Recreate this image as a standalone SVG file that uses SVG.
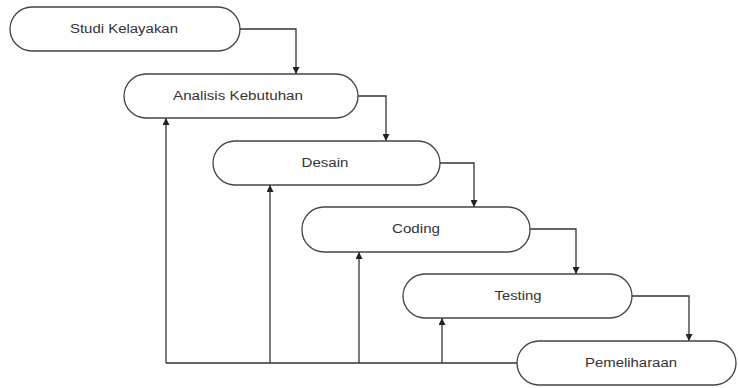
<svg xmlns="http://www.w3.org/2000/svg" width="738" height="388" viewBox="0 0 738 388">
<style>
.node rect{fill:#fff;stroke:#444;stroke-width:1.3}
.node text{font-family:"Liberation Sans",Arial,sans-serif;font-size:12px;fill:#333;text-anchor:middle;dominant-baseline:central}
.conn path{fill:none;stroke:#333;stroke-width:1.3}
</style>
<defs>
<marker id="ah" viewBox="0 0 10 10" refX="10" refY="5" markerWidth="7" markerHeight="7" markerUnits="userSpaceOnUse" orient="auto">
<path d="M0,0 L10,5 L0,10 Z" fill="#222"/>
</marker>
</defs>
<rect width="738" height="388" fill="#fff"/>
<g id="connectors" class="conn">
<path d="M240,29 H296 V74" marker-end="url(#ah)"/>
<path d="M358,96 H386 V141" marker-end="url(#ah)"/>
<path d="M440,163 H474 V207" marker-end="url(#ah)"/>
<path d="M530,229 H576 V274" marker-end="url(#ah)"/>
<path d="M632,296 H689 V341" marker-end="url(#ah)"/>
<path d="M517,363 H166"/>
<path d="M166,363 V118" marker-end="url(#ah)"/>
<path d="M270,363 V185" marker-end="url(#ah)"/>
<path d="M359,363 V252" marker-end="url(#ah)"/>
<path d="M442,363 V318" marker-end="url(#ah)"/>
</g>
<g id="studi" class="node">
<rect x="10" y="7" width="230" height="44" rx="22"/>
<text x="124" y="29" textLength="108" lengthAdjust="spacingAndGlyphs">Studi Kelayakan</text>
</g>
<g id="analisis" class="node">
<rect x="124" y="74" width="234" height="44" rx="22"/>
<text x="238" y="96" textLength="130" lengthAdjust="spacingAndGlyphs">Analisis Kebutuhan</text>
</g>
<g id="desain" class="node">
<rect x="213" y="141" width="227" height="44" rx="22"/>
<text x="325" y="163" textLength="47" lengthAdjust="spacingAndGlyphs">Desain</text>
</g>
<g id="coding" class="node">
<rect x="302" y="207" width="228" height="45" rx="22"/>
<text x="416" y="229" textLength="48" lengthAdjust="spacingAndGlyphs">Coding</text>
</g>
<g id="testing" class="node">
<rect x="403" y="274" width="229" height="44" rx="22"/>
<text x="518" y="296" textLength="47" lengthAdjust="spacingAndGlyphs">Testing</text>
</g>
<g id="pemeliharaan" class="node">
<rect x="517" y="341" width="219" height="44" rx="22"/>
<text x="631" y="363" textLength="92" lengthAdjust="spacingAndGlyphs">Pemeliharaan</text>
</g>
</svg>
